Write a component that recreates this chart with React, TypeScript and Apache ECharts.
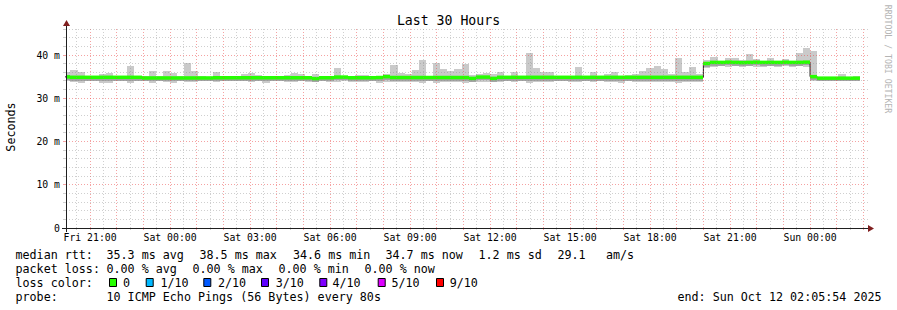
import React, { useEffect, useRef } from 'react';
import * as echarts from 'echarts';

// ---- time frame (hours counted from Fri 00:00) ----
const START_H = 20 + 354 / 3600; // Fri 20:05:54
const END_H = START_H + 30; // Sun 02:05:54
const BLOCK_START_H = 20; // first consolidated block: Fri 20:00
const BLOCK_H = 16 / 60; // 960 s consolidation step
const Y_MAX = 46.25;

const dayNames = ['Fri', 'Sat', 'Sun'];
const xTickHours = [21, 24, 27, 30, 33, 36, 39, 42, 45, 48];
const yTickValues = [0, 10, 20, 30, 40];

// ---- smoke (ms): highest and lowest ping per 16-minute block ----
const smokeHi = [
  36.1, 36.5, 36.1, 35.1, 35.1, 35.6, 35.9, 35.1, 35.1, 37.5,
  35.1, 35.1, 36.2, 35.1, 36.4, 35.9, 35.1, 38.2, 36.4, 35.1,
  35.0, 36.1, 35.1, 34.9, 35.1, 35.6, 35.9, 35.4, 35.1, 35.1,
  35.1, 35.4, 35.9, 35.6, 35.1, 35.6, 35.1, 35.1, 37.0, 35.1,
  35.1, 35.3, 35.4, 35.1, 35.2, 35.6, 37.7, 35.9, 35.6, 36.5,
  38.8, 35.2, 38.1, 36.8, 36.2, 36.8, 37.9, 35.4, 35.6, 35.9,
  35.5, 36.0, 35.1, 36.0, 35.1, 40.4, 37.0, 36.0, 36.0, 35.0,
  35.0, 35.1, 37.3, 35.1, 36.0, 35.0, 35.7, 36.0, 35.1, 35.4,
  35.6, 36.2, 37.0, 37.5, 36.8, 35.5, 39.4, 36.0, 37.3, 35.5,
  38.8, 39.6, 38.7, 39.3, 39.2, 38.9, 40.2, 39.1, 38.6, 39.3,
  38.7, 39.1, 38.4, 40.4, 41.6, 41.0, 34.9, 34.8, 34.9, 35.6,
  34.9, 35.2,
];
const smokeLo = [
  33.9, 33.8, 33.6, 33.9, 33.9, 33.6, 33.6, 33.9, 33.9, 33.6,
  33.9, 34.0, 33.6, 34.0, 33.8, 33.6, 34.0, 33.8, 33.8, 34.0,
  34.0, 33.8, 34.0, 34.0, 34.0, 33.9, 33.8, 33.9, 33.6, 34.0,
  33.9, 33.8, 33.7, 33.9, 33.7, 33.8, 33.9, 33.8, 33.8, 33.9,
  33.7, 33.8, 33.7, 33.9, 33.6, 33.8, 33.7, 33.8, 33.7, 33.8,
  33.6, 33.9, 33.6, 33.8, 33.7, 33.8, 33.6, 33.9, 33.7, 33.8,
  33.9, 33.7, 33.9, 33.8, 33.9, 33.6, 33.7, 33.8, 33.7, 33.9,
  33.9, 33.8, 33.7, 33.9, 33.8, 33.9, 33.8, 33.7, 33.6, 33.9,
  33.8, 33.8, 33.7, 33.8, 33.7, 33.7, 33.6, 33.8, 33.7, 33.7,
  36.9, 37.3, 37.4, 37.3, 37.4, 37.2, 37.4, 37.3, 37.2, 37.4,
  37.3, 37.4, 37.3, 37.4, 37.3, 34.1, 34.0, 34.1, 33.9, 34.0,
  34.0, 34.1,
];
// ---- median rtt (ms) per block, all with 0 % loss ----
const medianRtt = [
  34.95, 34.85, 34.85, 34.85, 34.85, 34.85, 34.85, 34.85, 34.85, 34.85,
  34.85, 34.7, 34.7, 34.7, 34.7, 34.7, 34.7, 34.7, 34.7, 34.7,
  34.7, 34.75, 34.75, 34.75, 34.75, 34.75, 34.75, 34.75, 34.75, 34.75,
  34.75, 34.75, 34.75, 34.75, 34.75, 34.55, 34.75, 34.75, 34.9, 34.9,
  34.75, 34.75, 34.75, 34.75, 34.8, 35.0, 34.8, 34.8, 34.8, 34.8,
  34.8, 34.8, 34.8, 34.8, 34.8, 34.8, 34.8, 34.6, 34.9, 34.9,
  34.6, 34.85, 34.85, 34.85, 34.85, 34.85, 34.85, 34.85, 34.85, 34.85,
  34.85, 34.85, 34.85, 34.85, 34.85, 34.85, 34.85, 34.85, 34.85, 34.85,
  34.85, 34.85, 34.85, 34.85, 34.85, 34.85, 34.85, 34.85, 34.85, 34.85,
  38.05, 38.3, 38.3, 38.35, 38.3, 38.25, 38.3, 38.35, 38.3, 38.3,
  38.3, 38.35, 38.3, 38.3, 38.35, 35.0, 34.65, 34.65, 34.65, 34.65,
  34.65, 34.65,
];

// ---- legend texts ----
const rttStats = ['35.3 ms avg', '38.5 ms max', '34.6 ms min', '34.7 ms now', '1.2 ms sd', '29.1'];
const lossStats = ['0.00 % avg', '0.00 % max', '0.00 % min', '0.00 % now'];
const lossLabels = ['0', '1/10', '2/10', '3/10', '4/10', '5/10', '9/10'];
const lossColors = ['#26ff00', '#00b8ff', '#0059ff', '#5e00ff', '#7e00ff', '#dd00ff', '#ff0000'];
const probeText = '10 ICMP Echo Pings (56 Bytes) every 80s';
const endText = 'end: Sun Oct 12 02:05:54 2025';

// ---- layout ----
const MONO = 'DejaVu Sans Mono';
const LEG_FS = 11.7;
const rttX = [106.5, 199.5, 293, 385.5, 478.5, 557.5];
const lossX = [106.5, 192.5, 278.5, 364.5];
const boxX = [109, 145.7, 203.3, 261, 319.3, 377.7, 436];
const boxLabelX = [123, 160.5, 218, 275.7, 332.5, 391.5, 449.7];
const rowY = [255, 269, 283, 297];

const blockHour = (i: number) => BLOCK_START_H + i * BLOCK_H;
const pad2 = (n: number) => String(n).padStart(2, '0');

export default function App() {
  const ref = useRef<HTMLDivElement>(null);
  useEffect(() => {
    if (!ref.current) return;
    const chart = echarts.init(ref.current, null, { renderer: 'svg' });

    const blocks = smokeHi.map((hi, i) => [blockHour(i), blockHour(i + 1), smokeLo[i], hi, medianRtt[i]]);
    const stepLine = medianRtt.map((m, i) => [blockHour(i), m]);
    stepLine.push([blockHour(medianRtt.length), medianRtt[medianRtt.length - 1]]);

    const vGrid: number[][] = [];
    for (let h = Math.ceil(START_H * 2) / 2; h <= END_H; h += 0.5) vGrid.push([h, h % 1 === 0 ? 1 : 0]);
    const hGrid: number[][] = [];
    for (let v = 2; v <= Y_MAX; v += 2) hGrid.push([v, v % 10 === 0 ? 1 : 0]);

    const MINOR = 'rgba(140,140,140,0.42)';
    const MAJOR = 'rgba(235,70,70,0.5)';
    const DASH = [1, 2];

    const texts: any[] = [];
    const txt = (text: string, x: number, y: number, extra: any = {}) =>
      texts.push({
        type: 'text',
        x,
        y,
        z: 10,
        style: {
          text,
          x: 0,
          y: 0,
          fill: '#000',
          fontFamily: MONO,
          fontSize: LEG_FS,
          align: 'left',
          verticalAlign: 'middle',
          textAlign: 'left',
          textVerticalAlign: 'middle',
          ...extra,
        },
      });

    txt('median rtt:', 15.5, rowY[0]);
    rttStats.forEach((s, i) => txt(s, rttX[i], rowY[0]));
    txt('am/s', 606, rowY[0]);
    txt('packet loss:', 15.5, rowY[1]);
    lossStats.forEach((s, i) => txt(s, lossX[i], rowY[1]));
    txt('loss color:', 15.5, rowY[2]);
    lossLabels.forEach((s, i) => txt(s, boxLabelX[i], rowY[2]));
    txt('probe:', 15.5, rowY[3]);
    txt(probeText, 106.5, rowY[3]);
    txt(endText, 677.5, rowY[3]);
    txt('Seconds', 11, 127, {});
    texts[texts.length - 1].rotation = Math.PI / 2;
    texts[texts.length - 1].style.align = 'center';
    texts[texts.length - 1].style.textAlign = 'center';
    txt('RRDTOOL / TOBI OETIKER', 887.5, 59, { fill: '#b4b4b4', fontSize: 8.2 });
    texts[texts.length - 1].rotation = -Math.PI / 2;
    texts[texts.length - 1].style.align = 'center';
    texts[texts.length - 1].style.textAlign = 'center';

    const boxes = lossColors.map((c, i) => ({
      type: 'rect',
      z: 10,
      shape: { x: boxX[i] + 0.5, y: 278.5, width: 7, height: 8 },
      style: { fill: c, stroke: '#000', lineWidth: 1 },
    }));

    const axes = [
      { type: 'line', z: 9, shape: { x1: 62, y1: 228.5, x2: 870, y2: 228.5 }, style: { stroke: '#1f1f1f', lineWidth: 1 } },
      { type: 'line', z: 9, shape: { x1: 66.5, y1: 232, x2: 66.5, y2: 24 }, style: { stroke: '#1f1f1f', lineWidth: 1 } },
      { type: 'polygon', z: 9, shape: { points: [[868, 225], [868, 232], [874, 228.5]] }, style: { fill: '#801f1f' } },
      { type: 'polygon', z: 9, shape: { points: [[63, 26], [70, 26], [66.5, 20]] }, style: { fill: '#801f1f' } },
    ];

    chart.setOption({
      animation: false,
      backgroundColor: '#ffffff',
      title: {
        text: 'Last 30 Hours',
        left: 'center',
        top: 9,
        textStyle: { fontFamily: MONO, fontSize: 13.2, fontWeight: 'normal', color: '#000' },
      },
      grid: { left: 66, top: 28, width: 800, height: 200, containLabel: false },
      xAxis: {
        type: 'value',
        min: START_H,
        max: END_H,
        axisLine: { show: false },
        axisTick: { show: false },
        splitLine: { show: false },
        axisLabel: {
          customValues: xTickHours,
          margin: 4,
          color: '#000',
          fontFamily: MONO,
          fontSize: 9.8,
          formatter: (v: number) => `${dayNames[Math.floor(v / 24)]} ${pad2(Math.round(v) % 24)}:00`,
        },
      },
      yAxis: {
        type: 'value',
        min: 0,
        max: Y_MAX,
        axisLine: { show: false },
        axisTick: { show: false },
        splitLine: { show: false },
        axisLabel: {
          customValues: yTickValues,
          margin: 6,
          color: '#000',
          fontFamily: MONO,
          fontSize: 9.8,
          formatter: (v: number) => (v === 0 ? '0' : `${v} m`),
        },
      },
      graphic: [...axes, ...boxes, ...texts],
      series: [
        {
          type: 'custom',
          name: 'smoke',
          clip: true,
          z: 2,
          data: blocks,
          encode: { x: [0, 1], y: [2, 3] },
          renderItem: (params: any, api: any) => {
            const t0 = api.value(0), t1 = api.value(1);
            const lo = api.value(2), hi = api.value(3), med = api.value(4);
            const pLo = api.coord([t0, lo]);
            const pHi = api.coord([t1, hi]);
            const x0 = Math.round(pLo[0]), x1 = Math.round(pHi[0]);
            const yHi = Math.round(pHi[1]), yLo = Math.round(pLo[1]);
            const yIn1 = Math.round(api.coord([t0, med + 0.25])[1]);
            const yIn2 = Math.round(api.coord([t0, med - 0.75])[1]);
            return {
              type: 'group',
              children: [
                { type: 'rect', shape: { x: x0, y: yHi, width: x1 - x0, height: yLo - yHi }, style: { fill: '#cacaca' } },
                { type: 'rect', shape: { x: x0, y: yIn1, width: x1 - x0, height: yIn2 - yIn1 }, style: { fill: '#a4a4a4' } },
              ],
            };
          },
        },
        {
          type: 'line',
          name: 'median line',
          step: 'end',
          z: 3,
          data: stepLine,
          showSymbol: false,
          symbol: 'none',
          lineStyle: { color: '#202020', width: 1 },
        },
        {
          type: 'custom',
          name: 'median rtt',
          clip: true,
          z: 4,
          data: blocks,
          encode: { x: [0, 1], y: [4] },
          renderItem: (params: any, api: any) => {
            const p0 = api.coord([api.value(0), api.value(4)]);
            const p1 = api.coord([api.value(1), api.value(4)]);
            const x0 = Math.round(p0[0]), x1 = Math.round(p1[0]);
            return {
              type: 'rect',
              shape: { x: x0, y: p0[1] - 1.75, width: x1 - x0, height: 3.5 },
              style: { fill: lossColors[0] },
            };
          },
        },
        {
          type: 'custom',
          name: 'vgrid',
          z: 5,
          silent: true,
          data: vGrid,
          encode: { x: 0 },
          renderItem: (params: any, api: any) => {
            const h = api.value(0);
            const major = api.value(1) === 1;
            const p0 = api.coord([h, 0]);
            const p1 = api.coord([h, Y_MAX]);
            const x = Math.floor(p0[0]) + 0.5;
            const stroke = major ? MAJOR : MINOR;
            return {
              type: 'group',
              children: [
                { type: 'line', shape: { x1: x, y1: p0[1], x2: x, y2: p1[1] }, style: { stroke, lineWidth: 1, lineDash: DASH } },
                { type: 'line', shape: { x1: x, y1: p0[1], x2: x, y2: p0[1] + 2 }, style: { stroke, lineWidth: 1 } },
              ],
            };
          },
        },
        {
          type: 'custom',
          name: 'hgrid',
          z: 5,
          silent: true,
          data: hGrid,
          encode: { y: 0 },
          renderItem: (params: any, api: any) => {
            const v = api.value(0);
            const major = api.value(1) === 1;
            const p0 = api.coord([START_H, v]);
            const p1 = api.coord([END_H, v]);
            const y = Math.floor(p0[1]) + 0.5;
            const stroke = major ? MAJOR : MINOR;
            return {
              type: 'group',
              children: [
                { type: 'line', shape: { x1: p0[0], y1: y, x2: p1[0] + 2, y2: y }, style: { stroke, lineWidth: 1, lineDash: DASH } },
                { type: 'line', shape: { x1: p0[0] - 3, y1: y, x2: p0[0], y2: y }, style: { stroke, lineWidth: 1 } },
              ],
            };
          },
        },
      ],
    });
    return () => chart.dispose();
  }, []);
  return <div ref={ref} style={{ position: 'absolute', left: 0, top: 0, width: 897, height: 310, background: '#fff' }} />;
}
